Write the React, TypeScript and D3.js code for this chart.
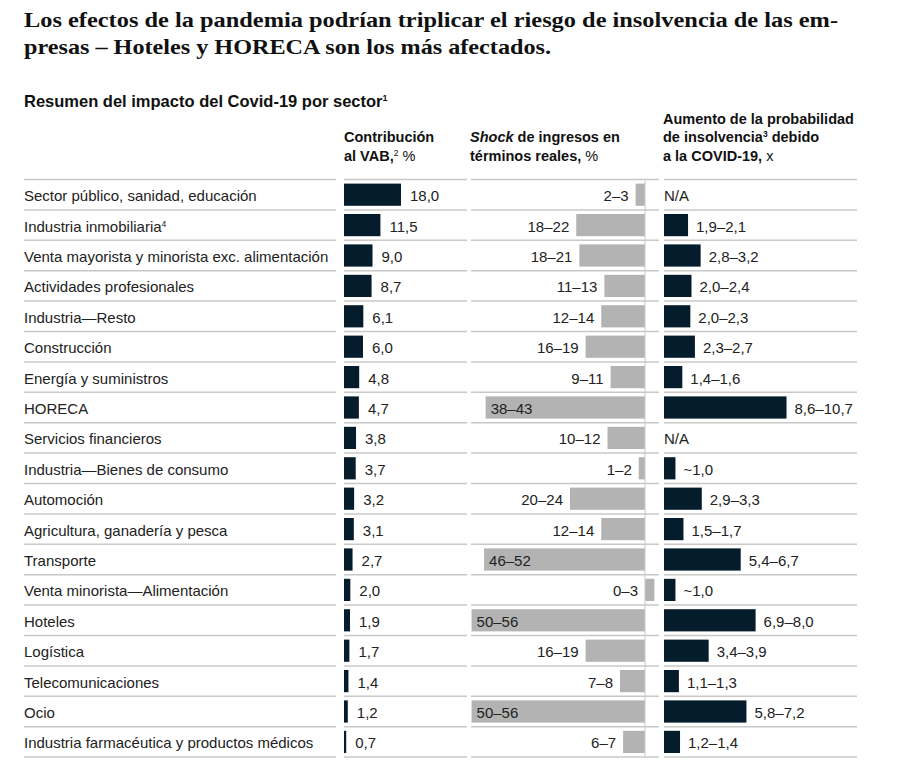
import { useEffect, useRef } from "react";
import * as d3 from "d3";

// sectors, top to bottom
const sectors = [
  "Sector público, sanidad, educación",
  "Industria inmobiliaria",
  "Venta mayorista y minorista exc. alimentación",
  "Actividades profesionales",
  "Industria—Resto",
  "Construcción",
  "Energía y suministros",
  "HORECA",
  "Servicios financieros",
  "Industria—Bienes de consumo",
  "Automoción",
  "Agricultura, ganadería y pesca",
  "Transporte",
  "Venta minorista—Alimentación",
  "Hoteles",
  "Logística",
  "Telecomunicaciones",
  "Ocio",
  "Industria farmacéutica y productos médicos",
];
const sectorNotes = ["", "4", "", "", "", "", "", "", "", "", "", "", "", "", "", "", "", "", ""];

// contribución al VAB, %
const vab = [18.0, 11.5, 9.0, 8.7, 6.1, 6.0, 4.8, 4.7, 3.8, 3.7, 3.2, 3.1, 2.7, 2.0, 1.9, 1.7, 1.4, 1.2, 0.7];

// shock de ingresos: bar extent (negative = drop), and its label
const shock = [-3, -22, -21, -13, -14, -19, -11, -51, -12, -2, -24, -14, -51.5, 3, -55.5, -19, -8, -55.5, -7];
const shockLabels = [
  "2–3", "18–22", "18–21", "11–13", "12–14", "16–19", "9–11", "38–43", "10–12", "1–2",
  "20–24", "12–14", "46–52", "0–3", "50–56", "16–19", "7–8", "50–56", "6–7",
];

// aumento de la probabilidad de insolvencia, x (upper value of the range)
const insolv = [null, 2.1, 3.2, 2.4, 2.3, 2.7, 1.6, 10.7, null, 1.0, 3.3, 1.7, 6.7, 1.0, 8.0, 3.9, 1.3, 7.2, 1.4];
const insolvLabels = [
  "N/A", "1,9–2,1", "2,8–3,2", "2,0–2,4", "2,0–2,3", "2,3–2,7", "1,4–1,6", "8,6–10,7", "N/A", "~1,0",
  "2,9–3,3", "1,5–1,7", "5,4–6,7", "~1,0", "6,9–8,0", "3,4–3,9", "1,1–1,3", "5,8–7,2", "1,2–1,4",
];

const W = 903;
const H = 769;
const NAVY = "#051c2c";
const GRAY = "#b3b3b3";
const RULE = "#c8c8c8";
const TEXT = "#222";
const SANS = "'Liberation Sans', Arial, sans-serif";
const FS = 15;

const App = () => {
  const ref = useRef<SVGSVGElement>(null);

  useEffect(() => {
    const svg = d3.select(ref.current);
    svg.selectAll("*").remove();

    // title
    const title = svg
      .append("g")
      .attr("font-family", "'Liberation Serif', 'DejaVu Serif', serif")
      .attr("font-weight", "bold")
      .attr("font-size", 22)
      .attr("fill", "#111");
    title
      .append("text")
      .attr("x", 24)
      .attr("y", 27)
      .attr("textLength", 814)
      .attr("lengthAdjust", "spacingAndGlyphs")
      .text("Los efectos de la pandemia podrían triplicar el riesgo de insolvencia de las em-");
    title
      .append("text")
      .attr("x", 24)
      .attr("y", 54)
      .attr("textLength", 527)
      .attr("lengthAdjust", "spacingAndGlyphs")
      .text("presas – Hoteles y HORECA son los más afectados.");

    // subtitle
    const sub = svg
      .append("text")
      .attr("x", 24)
      .attr("y", 107)
      .attr("font-family", SANS)
      .attr("font-weight", "bold")
      .attr("font-size", 16.5)
      .attr("fill", "#111");
    sub.append("tspan").text("Resumen del impacto del Covid-19 por sector");
    sub.append("tspan").attr("dy", -6).attr("font-size", 9).text("1");

    // column headers
    const hdr = svg
      .append("g")
      .attr("font-family", SANS)
      .attr("font-size", 14.5)
      .attr("fill", "#111");
    const addLine = (x: number, y: number, parts: [string, string][]) => {
      const t = hdr.append("text").attr("x", x).attr("y", y);
      parts.forEach(([s, style]) => {
        const sp = t.append("tspan").text(s);
        if (style.includes("b")) sp.attr("font-weight", "bold");
        if (style.includes("i")) sp.attr("font-style", "italic");
        if (style.includes("s")) sp.attr("font-size", 8.5).attr("dy", -5);
        if (style.includes("r")) sp.attr("dy", 5);
      });
    };
    addLine(344, 142, [["Contribución", "b"]]);
    addLine(344, 161, [["al VAB,", "b"], ["2", "s"], [" %", "r"]]);
    addLine(470, 142, [["Shock", "bi"], [" de ingresos en", "b"]]);
    addLine(470, 161, [["términos reales,", "b"], [" %", ""]]);
    addLine(663, 124, [["Aumento de la probabilidad", "b"]]);
    addLine(663, 142, [["de insolvencia", "b"], ["3", "bs"], [" debido", "br"]]);
    addLine(663, 161, [["a la COVID-19,", "b"], [" x", ""]]);

    // rows
    const top = 179.5;
    const step = 30.4;
    const y = d3
      .scaleBand<number>()
      .domain(d3.range(sectors.length))
      .range([top, top + step * sectors.length])
      .paddingInner(0.27)
      .paddingOuter(0.135);
    const mid = (i: number) => (y(i) as number) + y.bandwidth() / 2;

    // horizontal rules
    const segs = [
      [24, 336],
      [344, 467],
      [471, 659],
      [664, 857],
    ];
    const rules = svg.append("g").attr("stroke", RULE).attr("stroke-width", 1.5);
    d3.range(sectors.length + 1).forEach((k) => {
      segs.forEach(([a, b]) => {
        rules
          .append("line")
          .attr("x1", a)
          .attr("x2", b)
          .attr("y1", top + k * step)
          .attr("y2", top + k * step);
      });
    });

    // labels
    const lab = svg
      .append("g")
      .attr("font-family", SANS)
      .attr("font-size", FS)
      .attr("fill", TEXT);
    sectors.forEach((s, i) => {
      const t = lab.append("text").attr("x", 24).attr("y", mid(i) + 1).attr("dy", "0.36em");
      t.append("tspan").text(s);
      if (sectorNotes[i]) t.append("tspan").attr("dy", "-0.5em").attr("font-size", 8.5).text(sectorNotes[i]);
    });

    // column 1: VAB
    const x1 = d3.scaleLinear().domain([0, 18]).range([0, 57]);
    const fmt = (v: number) => d3.format(".1f")(v).replace(".", ",");
    const c1 = svg.append("g").attr("transform", "translate(344,0)");
    vab.forEach((v, i) => {
      c1.append("rect")
        .attr("x", 0)
        .attr("y", y(i) as number)
        .attr("width", x1(v))
        .attr("height", y.bandwidth())
        .attr("fill", NAVY);
      c1.append("text")
        .attr("x", x1(v) + 9)
        .attr("y", mid(i) + 1)
        .attr("dy", "0.36em")
        .attr("font-family", SANS)
        .attr("font-size", FS)
        .attr("fill", TEXT)
        .text(fmt(v));
    });

    // column 2: shock
    const zero = 645;
    const x2 = d3.scaleLinear().domain([-56, 0, 10]).range([zero - 175, zero, zero + 31.25]);
    const c2 = svg.append("g");
    shock.forEach((v, i) => {
      const a = Math.min(x2(v), x2(0));
      const w = Math.abs(x2(v) - x2(0));
      c2.append("rect")
        .attr("x", a)
        .attr("y", y(i) as number)
        .attr("width", w)
        .attr("height", y.bandwidth())
        .attr("fill", GRAY);
      const inside = w > 100;
      c2.append("text")
        .attr("x", inside ? a + 5 : a - 7)
        .attr("y", mid(i) + 1)
        .attr("dy", "0.36em")
        .attr("text-anchor", inside ? "start" : "end")
        .attr("font-family", SANS)
        .attr("font-size", FS)
        .attr("fill", TEXT)
        .text(shockLabels[i]);
    });
    svg
      .append("line")
      .attr("x1", zero)
      .attr("x2", zero)
      .attr("y1", top + 1)
      .attr("y2", top + step * sectors.length)
      .attr("stroke", RULE)
      .attr("stroke-width", 1);

    // column 3: insolvency
    const x3 = d3.scaleLinear().domain([0, 10]).range([0, 114.5]);
    const c3 = svg.append("g").attr("transform", "translate(664,0)");
    insolv.forEach((v, i) => {
      if (v !== null) {
        c3.append("rect")
          .attr("x", 0)
          .attr("y", y(i) as number)
          .attr("width", x3(v))
          .attr("height", y.bandwidth())
          .attr("fill", NAVY);
      }
      c3.append("text")
        .attr("x", v === null ? 0 : x3(v) + 8)
        .attr("y", mid(i) + 1)
        .attr("dy", "0.36em")
        .attr("font-family", SANS)
        .attr("font-size", FS)
        .attr("fill", TEXT)
        .text(insolvLabels[i]);
    });
  }, []);

  return (
    <div style={{ position: "absolute", left: 0, top: 0, background: "#fff" }}>
      <svg ref={ref} width={W} height={H} style={{ display: "block" }} />
    </div>
  );
};

export default App;
